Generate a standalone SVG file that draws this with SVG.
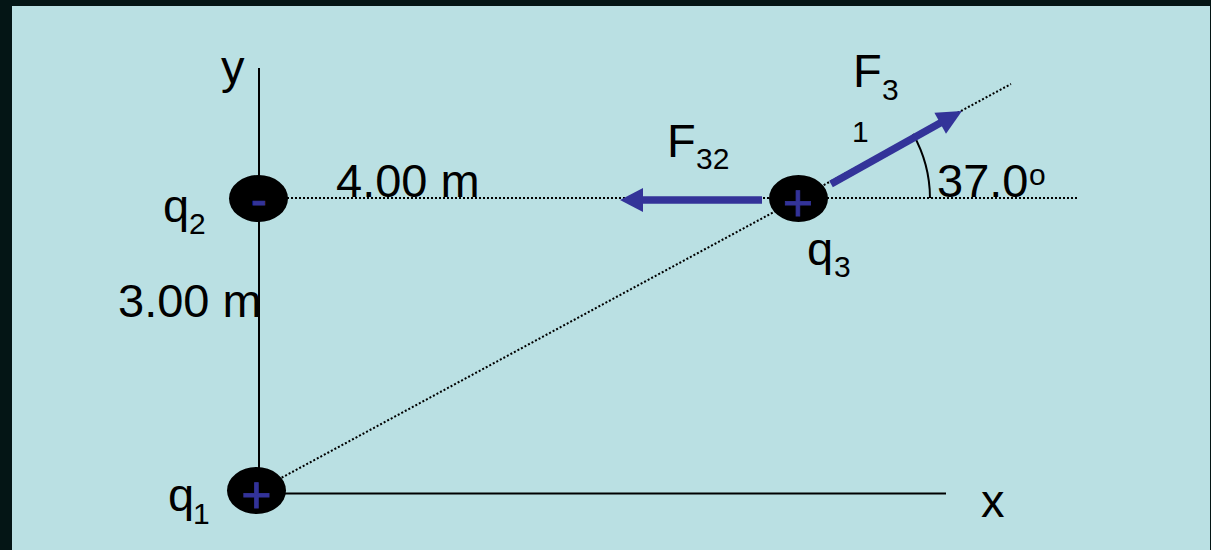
<svg xmlns="http://www.w3.org/2000/svg" width="1211" height="550" viewBox="0 0 1211 550">
<style>
.t{font-family:"Liberation Sans",Arial,sans-serif;fill:#000;font-size:47px}
.s{font-size:30px}
.sign{font-family:"Liberation Sans",Arial,sans-serif;fill:#333399;stroke:#333399;stroke-width:0.8;text-anchor:middle}
.axis{stroke:#000;stroke-width:2;fill:none}
.dot{stroke:#000;stroke-width:2;stroke-dasharray:2 2;fill:none}
.force{stroke:#333399;stroke-width:7.5;fill:none}
.head{fill:#333399}
.charge{fill:#000}
</style>
<rect x="0" y="0" width="1211" height="550" fill="#041515"/>
<rect x="12" y="6" width="1198" height="544" fill="#BAE0E3"/>
<g id="connectors">
<line class="axis" x1="259" y1="68" x2="259" y2="491"/>
<line class="axis" x1="257" y1="493.5" x2="946" y2="493.5"/>
<line class="dot" x1="259" y1="198" x2="1079" y2="198"/>
<line class="dot" x1="257" y1="491" x2="1011" y2="84"/>
<path class="axis" d="M 930 198 A 132 132 0 0 0 913 134" stroke-width="1.5"/>
<g id="F32">
<line class="force" x1="762" y1="200" x2="640" y2="200"/>
<polygon class="head" points="620,200 643,188 643,212"/>
</g>
<g id="F31">
<line class="force" x1="831" y1="184" x2="942" y2="122"/>
<polygon class="head" points="962,111 946,133.7 934.4,112.7"/>
</g>
</g>
<g id="q2">
<ellipse class="charge" cx="258.5" cy="198.5" rx="29.5" ry="23.5"/>
<text class="sign" x="259" y="216" font-size="48">-</text>
</g>
<g id="q1">
<ellipse class="charge" cx="256.5" cy="490.5" rx="29.5" ry="23.5"/>
<text class="sign" x="256.5" y="513" font-size="52">+</text>
</g>
<g id="q3">
<ellipse class="charge" cx="798.5" cy="198.5" rx="29.5" ry="23.5"/>
<text class="sign" x="798" y="221" font-size="52">+</text>
</g>
<g id="labels">
<text class="t" x="221" y="83">y</text>
<text class="t" x="981" y="517">x</text>
<text class="t" x="336" y="197">4.00 m</text>
<text class="t" x="118" y="317">3.00 m</text>
<text class="t" x="163" y="222">q<tspan class="s" x="189" y="234">2</tspan></text>
<text class="t" x="168" y="511">q<tspan class="s" x="193" y="524">1</tspan></text>
<text class="t" x="807" y="265">q<tspan class="s" x="834" y="277">3</tspan></text>
<text class="t" x="667" y="157">F<tspan class="s" x="696" y="169">32</tspan></text>
<text class="t" x="853" y="87">F<tspan class="s" x="882" y="100">3</tspan></text>
<text class="t s" x="852" y="142">1</text>
<text class="t" x="937" y="197">37.0</text>
<text class="t s" x="1029" y="185">o</text>
</g>
</svg>
